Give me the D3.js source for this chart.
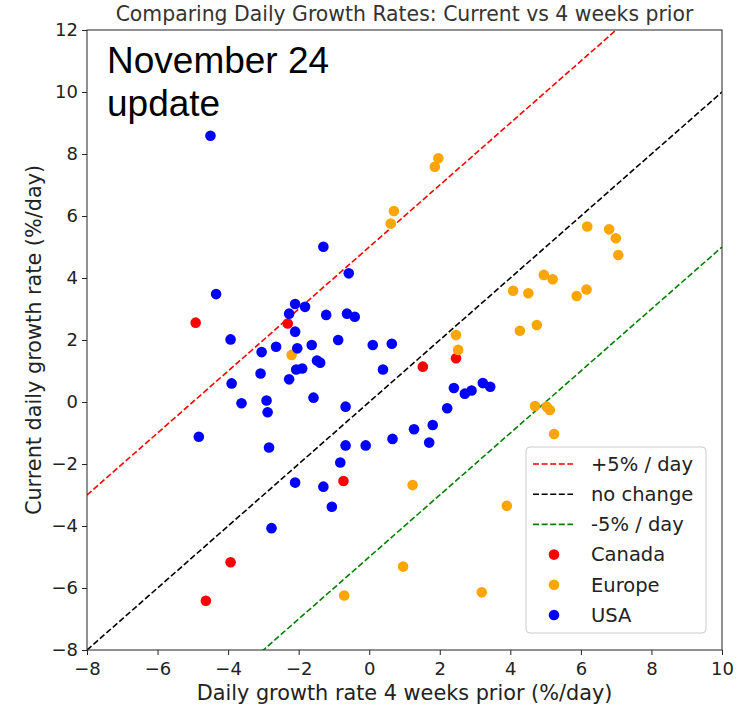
<!DOCTYPE html>
<html>
<head>
<meta charset="utf-8">
<script src="https://cdn.jsdelivr.net/npm/d3@7"></script>
<style>
  body { margin: 0; background: #fff; }
  svg { display: block; }
  text { font-family: "DejaVu Sans", sans-serif; fill: #222; }
</style>
</head>
<body>
<svg id="chart" width="741" height="706"></svg>
<script>
// Daily growth rate 4 weeks prior (x) vs current daily growth rate (y), %/day
const canadaPrior   = [-4.92, -2.31, -0.73, -3.93, -4.63, 1.52, 2.46];
const canadaCurrent = [ 2.56,  2.53, -2.55, -5.17, -6.41, 1.14, 1.41];

const europePrior   = [0.70, 0.61, 1.96, 1.86, 6.18, 6.80, 6.99, 7.06, 4.95, 5.20, 4.08, 4.51, 5.88, 6.16,
                       4.27, 4.75, 2.46, 2.52, -2.20, 4.70, 5.03, 5.12, 5.24, 1.23, 3.90, 0.96, -0.71, 3.19];
const europeCurrent = [6.16, 5.76, 7.86, 7.59, 5.66, 5.57, 5.28, 4.74, 4.10, 3.96, 3.59, 3.51, 3.42, 3.63,
                       2.30, 2.48, 2.16, 1.68, 1.52, -0.13, -0.15, -0.26, -1.03, -2.68, -3.35, -5.31, -6.24, -6.14];

const usaPrior   = [-4.50, -1.30, -0.58, -4.34, -2.10, -1.82, -2.27, -1.22, -0.63, -0.41, -2.10, -3.93, -0.88,
                    0.10, 0.64, -3.05, -2.64, -2.04, -1.63, -1.48, -1.39, -2.07, -1.90, -3.08, 0.39, -2.27,
                    -3.90, -3.62, -2.91, -2.88, -1.58, -0.67, -4.83, -2.84, -0.67, -0.10, 0.66, -0.82, -2.10,
                    -1.30, -1.06, -2.77, 1.27, 2.40, 2.71, 2.90, 3.22, 3.43, 2.21, 1.80, 1.70];
const usaCurrent = [8.59, 5.01, 4.15, 3.48, 3.16, 3.07, 2.85, 2.81, 2.85, 2.75, 2.27, 2.02, 2.00,
                    1.84, 1.88, 1.61, 1.78, 1.73, 1.84, 1.34, 1.27, 1.05, 1.08, 0.92, 1.05, 0.73,
                    0.60, -0.04, 0.05, -0.33, 0.14, -0.15, -1.12, -1.47, -1.40, -1.40, -1.19, -1.95, -2.60,
                    -2.73, -3.38, -4.07, -0.88, 0.45, 0.27, 0.37, 0.61, 0.49, -0.20, -0.74, -1.31];

const xTicks = [-8, -6, -4, -2, 0, 2, 4, 6, 8, 10];
const yTicks = [-8, -6, -4, -2, 0, 2, 4, 6, 8, 10, 12];

// Reference lines: current = prior + offset
const refLabels  = ["+5% / day", "no change", "-5% / day"];
const refOffsets = [5, 0, -5];
const refColors  = ["#ff0000", "#000000", "#008000"];

const seriesLabels = ["Canada", "Europe", "USA"];
const seriesColors = ["#ff0000", "#ffa500", "#0000ff"];
const seriesData = [
  canadaPrior.map((x, i) => [x, canadaCurrent[i]]),
  europePrior.map((x, i) => [x, europeCurrent[i]]),
  usaPrior.map((x, i) => [x, usaCurrent[i]])
];

const margin = { left: 87, right: 19, top: 30, bottom: 56 };
const W = 741, H = 706;
const svg = d3.select("#chart");

const x = d3.scaleLinear().domain([-8, 10]).range([margin.left, W - margin.right]);
const y = d3.scaleLinear().domain([-8, 12]).range([H - margin.bottom, margin.top]);

svg.append("defs").append("clipPath").attr("id", "plot-clip")
  .append("rect")
  .attr("x", x(-8)).attr("y", y(12))
  .attr("width", x(10) - x(-8)).attr("height", y(-8) - y(12));

const plot = svg.append("g").attr("clip-path", "url(#plot-clip)");

// dashed reference lines
const line = d3.line().x(d => x(d[0])).y(d => y(d[1]));
refOffsets.forEach((off, i) => {
  plot.append("path")
    .attr("d", line([[-8, -8 + off], [10, 10 + off]]))
    .attr("fill", "none")
    .attr("stroke", refColors[i])
    .attr("stroke-width", 1.6)
    .attr("stroke-dasharray", "6,2.6");
});

// scatter points, one layer per region
seriesData.forEach((pts, i) => {
  plot.append("g").selectAll("circle").data(pts).join("circle")
    .attr("cx", d => x(d[0]))
    .attr("cy", d => y(d[1]))
    .attr("r", 5.3)
    .attr("fill", seriesColors[i]);
});

// axes
const fmt = d3.format("d");
const xAxis = svg.append("g")
  .attr("transform", `translate(0,${y(-8)})`)
  .call(d3.axisBottom(x).tickValues(xTicks).tickFormat(fmt).tickSize(5).tickPadding(4));
const yAxis = svg.append("g")
  .attr("transform", `translate(${x(-8)},0)`)
  .call(d3.axisLeft(y).tickValues(yTicks).tickFormat(fmt).tickSize(5).tickPadding(4));
[xAxis, yAxis].forEach(a => {
  a.select(".domain").remove();
  a.selectAll("text").style("font-size", "18px").style("fill", "#222");
  a.selectAll("line").attr("stroke", "#222");
});
xAxis.selectAll("text").attr("dy", "0.9em");

// frame
svg.append("rect")
  .attr("x", x(-8)).attr("y", y(12))
  .attr("width", x(10) - x(-8)).attr("height", y(-8) - y(12))
  .attr("fill", "none").attr("stroke", "#222").attr("stroke-width", 1);

// title and axis labels
svg.append("text")
  .attr("x", (x(-8) + x(10)) / 2).attr("y", 21)
  .attr("text-anchor", "middle")
  .style("font-size", "20.4px")
  .style("fill", "#333")
  .text("Comparing Daily Growth Rates: Current vs 4 weeks prior");

svg.append("text")
  .attr("x", (x(-8) + x(10)) / 2).attr("y", 700)
  .attr("text-anchor", "middle")
  .style("font-size", "20.8px")
  .text("Daily growth rate 4 weeks prior (%/day)");

svg.append("text")
  .attr("transform", `translate(41,${(y(-8) + y(12)) / 2}) rotate(-90)`)
  .attr("text-anchor", "middle")
  .style("font-size", "20.8px")
  .text("Current daily growth rate (%/day)");

// annotation
const note = svg.append("text")
  .style("font-family", "'Liberation Sans', Arial, sans-serif")
  .style("font-size", "37px")
  .style("fill", "#000");
note.append("tspan").attr("x", 107).attr("y", 73).text("November 24");
note.append("tspan").attr("x", 107).attr("y", 116).text("update");

// legend
const lg = svg.append("g").attr("transform", "translate(526,447)");
lg.append("rect")
  .attr("width", 180).attr("height", 186)
  .attr("rx", 4).attr("ry", 4)
  .attr("fill", "#fff").attr("fill-opacity", 0.8)
  .attr("stroke", "#ccc");
const rowY = i => 17 + i * 30.2;
refLabels.forEach((lab, i) => {
  lg.append("line")
    .attr("x1", 7).attr("x2", 47)
    .attr("y1", rowY(i)).attr("y2", rowY(i))
    .attr("stroke", refColors[i]).attr("stroke-width", 1.6)
    .attr("stroke-dasharray", "6,2.6");
  lg.append("text").attr("x", 65).attr("y", rowY(i)).attr("dy", "0.35em")
    .style("font-size", "19.5px").text(lab);
});
seriesLabels.forEach((lab, j) => {
  const i = j + 3;
  lg.append("circle").attr("cx", 28).attr("cy", rowY(i)).attr("r", 5.3)
    .attr("fill", seriesColors[j]);
  lg.append("text").attr("x", 65).attr("y", rowY(i)).attr("dy", "0.35em")
    .style("font-size", "19.5px").text(lab);
});
</script>
</body>
</html>
